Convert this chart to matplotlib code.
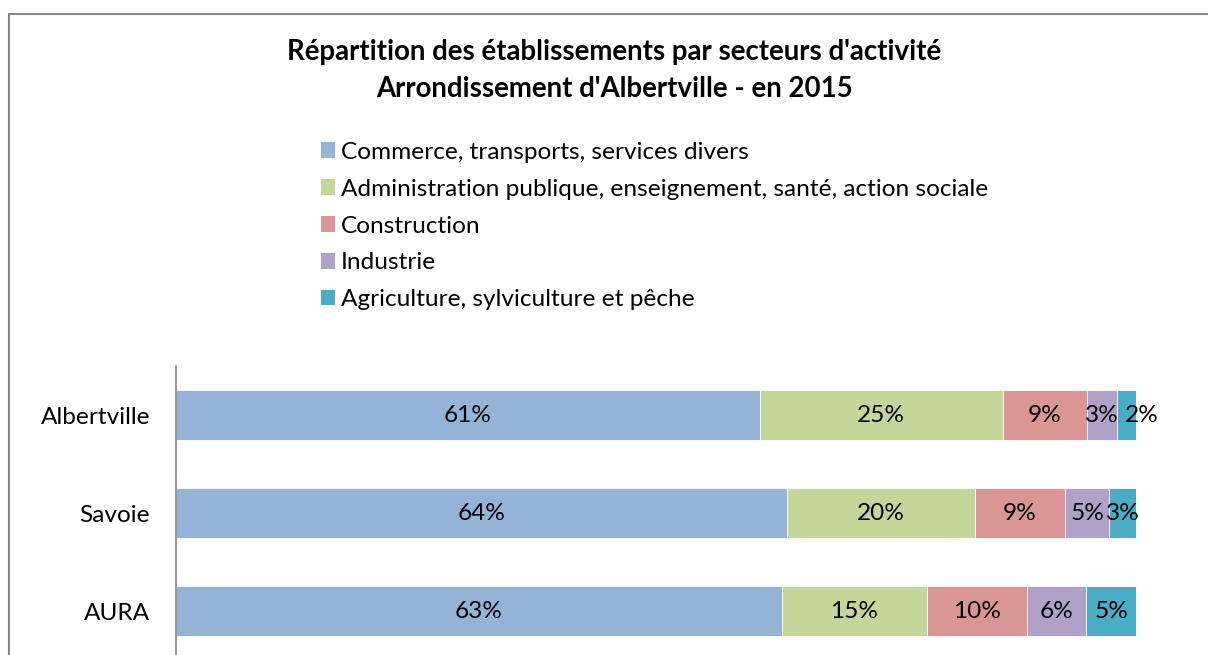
import matplotlib.pyplot as plt
from matplotlib.patches import Patch, Rectangle

# Share of establishments by sector (%), per territory
territories = ["Albertville", "Savoie", "AURA"]
sectors = [
    "Commerce, transports, services divers",
    "Administration publique, enseignement, santé, action sociale",
    "Construction",
    "Industrie",
    "Agriculture, sylviculture et pêche",
]
commerce = [60.8, 63.6, 63.1]
administration = [25.3, 19.6, 15.1]
construction = [8.8, 9.4, 10.4]
industrie = [3.1, 4.6, 6.2]
agriculture = [2.0, 2.8, 5.2]

series = [commerce, administration, construction, industrie, agriculture]
colors = ["#95B3D7", "#C4D79B", "#DA9694", "#B1A0C7", "#4BACC6"]

plt.rcParams["font.family"] = ["Lato", "DejaVu Sans"]
FS = 17.6

W, H = 1208, 655
fig = plt.figure(figsize=(W / 100, H / 100), dpi=100)

# chart frame (only top and left edges fall inside the image)
fig.patches.append(Rectangle((9 / W, -0.1), 1.2, 1.1 - 13.5 / H,
                             transform=fig.transFigure, fill=False,
                             edgecolor="#868686", linewidth=1.5))

ax = fig.add_axes([176 / W, -5 / H, 960 / W, 294 / H])

left = [0.0] * len(territories)
for vals, col, name in zip(series, colors, sectors):
    bars = ax.barh(territories, vals, left=left, height=0.51, color=col,
                   edgecolor="white", linewidth=0.6, label=name)
    for i, (b, v) in enumerate(zip(bars, vals)):
        cx = b.get_x() + b.get_width() / 2
        cy = b.get_y() + b.get_height() / 2
        dx = 0
        # the last narrow slice on Albertville is pushed right so it clears "3%"
        if name == sectors[-1] and territories[i] == "Albertville":
            dx = 11
        ax.annotate(f"{round(v)}%", (cx, cy), xytext=(dx, 0),
                    textcoords="offset points", ha="center", va="center",
                    fontsize=FS, color="black")
    left = [l + v for l, v in zip(left, vals)]

ax.set_xlim(0, 100)
ax.set_ylim(2.5, -0.5)
ax.set_xticks([])
ax.tick_params(axis="y", length=0, pad=18.5, labelsize=FS)
for s in ["top", "right", "bottom"]:
    ax.spines[s].set_visible(False)
ax.spines["left"].set_color("#868686")
ax.spines["left"].set_linewidth(1.2)

fig.text(614 / W, 1 - 52 / H, "Répartition des établissements par secteurs d'activité",
         ha="center", va="center", fontsize=19.9, fontweight="bold")
fig.text(614 / W, 1 - 89 / H, "Arrondissement d'Albertville - en 2015",
         ha="center", va="center", fontsize=19.9, fontweight="bold")

handles = [Patch(facecolor=c) for c in colors]
fig.legend(handles, sectors, loc="upper left",
           bbox_to_anchor=(311 / W, 1 - 132 / H), frameon=False,
           fontsize=FS, handlelength=0.6, handleheight=0.6,
           handletextpad=0.22, labelspacing=0.65, borderaxespad=0)

fig.savefig("out.png", dpi=100)
